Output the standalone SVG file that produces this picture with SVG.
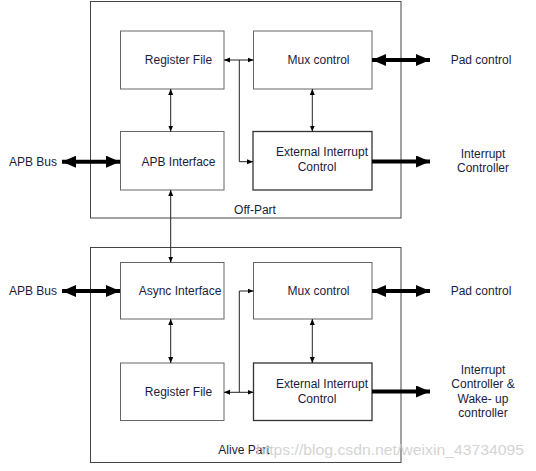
<svg xmlns="http://www.w3.org/2000/svg" width="536" height="471" viewBox="0 0 536 471">
<style>
.box{fill:#fff;stroke:#666;stroke-width:1}
.eic{fill:#fff;stroke:#333;stroke-width:1.3}
.part{fill:none;stroke:#444;stroke-width:1}
text{font-family:"Liberation Sans",Arial,sans-serif;font-size:12px;fill:#1c1c3c;text-anchor:middle;dominant-baseline:central}
.thin{stroke:#222;stroke-width:1;fill:none}
.thick{stroke:#000;stroke-width:4;fill:none}
.wm{fill:#d4d4d4;font-size:14.5px;text-anchor:start}
</style>
<defs>
<marker id="s" viewBox="0 0 6 6" refX="6" refY="3" markerWidth="6" markerHeight="6" markerUnits="userSpaceOnUse" orient="auto-start-reverse"><path d="M0,0.5 L6,3 L0,5.5Z" fill="#000"/></marker>
<marker id="b" viewBox="0 0 14 12" refX="14" refY="6" markerWidth="14" markerHeight="12" markerUnits="userSpaceOnUse" orient="auto-start-reverse"><path d="M0,0 L14,6 L0,12Z" fill="#000"/></marker>
</defs>
<rect width="536" height="471" fill="#fff"/>

<g id="off-part">
<rect class="part" x="90.5" y="1.5" width="310.5" height="216.5"/>
<text x="255" y="210">Off-Part</text>
</g>
<g id="alive-part">
<rect class="part" x="90.5" y="247.5" width="310.5" height="215"/>
<text x="244" y="450">Alive Part</text>
</g>

<g id="off-regfile"><rect class="box" x="120.5" y="31" width="103.5" height="58"/><text x="178.5" y="60">Register File</text></g>
<g id="off-mux"><rect class="box" x="253.5" y="31" width="118.5" height="58"/><text x="318.5" y="60">Mux control</text></g>
<g id="off-apb"><rect class="box" x="120.5" y="131.5" width="103.5" height="58.5"/><text x="178.5" y="161.5">APB Interface</text></g>
<g id="off-eic"><rect class="eic" x="253" y="131.5" width="119" height="58.5"/><text x="322" y="152">External Interrupt</text><text x="317" y="166.5">Control</text></g>

<g id="alive-async"><rect class="box" x="120.5" y="262.5" width="103.5" height="56.5"/><text x="180" y="291">Async Interface</text></g>
<g id="alive-mux"><rect class="box" x="253.5" y="262.5" width="118.5" height="56.5"/><text x="318.5" y="291">Mux control</text></g>
<g id="alive-regfile"><rect class="box" x="120.5" y="363" width="103.5" height="57.5"/><text x="178.5" y="392">Register File</text></g>
<g id="alive-eic"><rect class="eic" x="253.5" y="363" width="118.5" height="57.5"/><text x="322" y="384">External Interrupt</text><text x="317" y="398.5">Control</text></g>

<g id="ext-labels">
<text x="33" y="161.5">APB Bus</text>
<text x="33" y="291">APB Bus</text>
<text x="481" y="60">Pad control</text>
<text x="481" y="291">Pad control</text>
<text x="483" y="153.5">Interrupt</text>
<text x="483" y="167.5">Controller</text>
<text x="483" y="369.5">Interrupt</text>
<text x="483" y="384">Controller &amp;</text>
<text x="483" y="398.5">Wake- up</text>
<text x="483" y="413">controller</text>
</g>

<g id="connectors">
<line class="thin" x1="170.7" y1="89" x2="170.7" y2="131.5" marker-start="url(#s)" marker-end="url(#s)"/>
<line class="thin" x1="312.3" y1="89" x2="312.3" y2="131.5" marker-start="url(#s)" marker-end="url(#s)"/>
<line class="thin" x1="224" y1="60" x2="253.5" y2="60" marker-start="url(#s)" marker-end="url(#s)"/>
<polyline class="thin" points="239.3,60 239.3,161.7 253,161.7" marker-end="url(#s)"/>
<line class="thin" x1="170.7" y1="190" x2="170.7" y2="262.5" marker-start="url(#s)" marker-end="url(#s)"/>
<line class="thin" x1="170.7" y1="319" x2="170.7" y2="363" marker-start="url(#s)" marker-end="url(#s)"/>
<line class="thin" x1="312.3" y1="319" x2="312.3" y2="363" marker-start="url(#s)" marker-end="url(#s)"/>
<line class="thin" x1="224" y1="392.3" x2="253.5" y2="392.3" marker-start="url(#s)" marker-end="url(#s)"/>
<polyline class="thin" points="239.3,392.3 239.3,291 253.5,291" marker-end="url(#s)"/>

<line class="thick" x1="62" y1="161.7" x2="120" y2="161.7" marker-start="url(#b)" marker-end="url(#b)"/>
<line class="thick" x1="62" y1="291" x2="120" y2="291" marker-start="url(#b)" marker-end="url(#b)"/>
<line class="thick" x1="372" y1="60" x2="430" y2="60" marker-start="url(#b)" marker-end="url(#b)"/>
<line class="thick" x1="372" y1="291" x2="430" y2="291" marker-start="url(#b)" marker-end="url(#b)"/>
<line class="thick" x1="372" y1="161.5" x2="430" y2="161.5" marker-end="url(#b)"/>
<line class="thick" x1="372" y1="391.5" x2="430" y2="391.5" marker-end="url(#b)"/>
</g>

<text class="wm" x="256" y="450" textLength="268" lengthAdjust="spacingAndGlyphs">https://blog.csdn.net/weixin_43734095</text>
</svg>
